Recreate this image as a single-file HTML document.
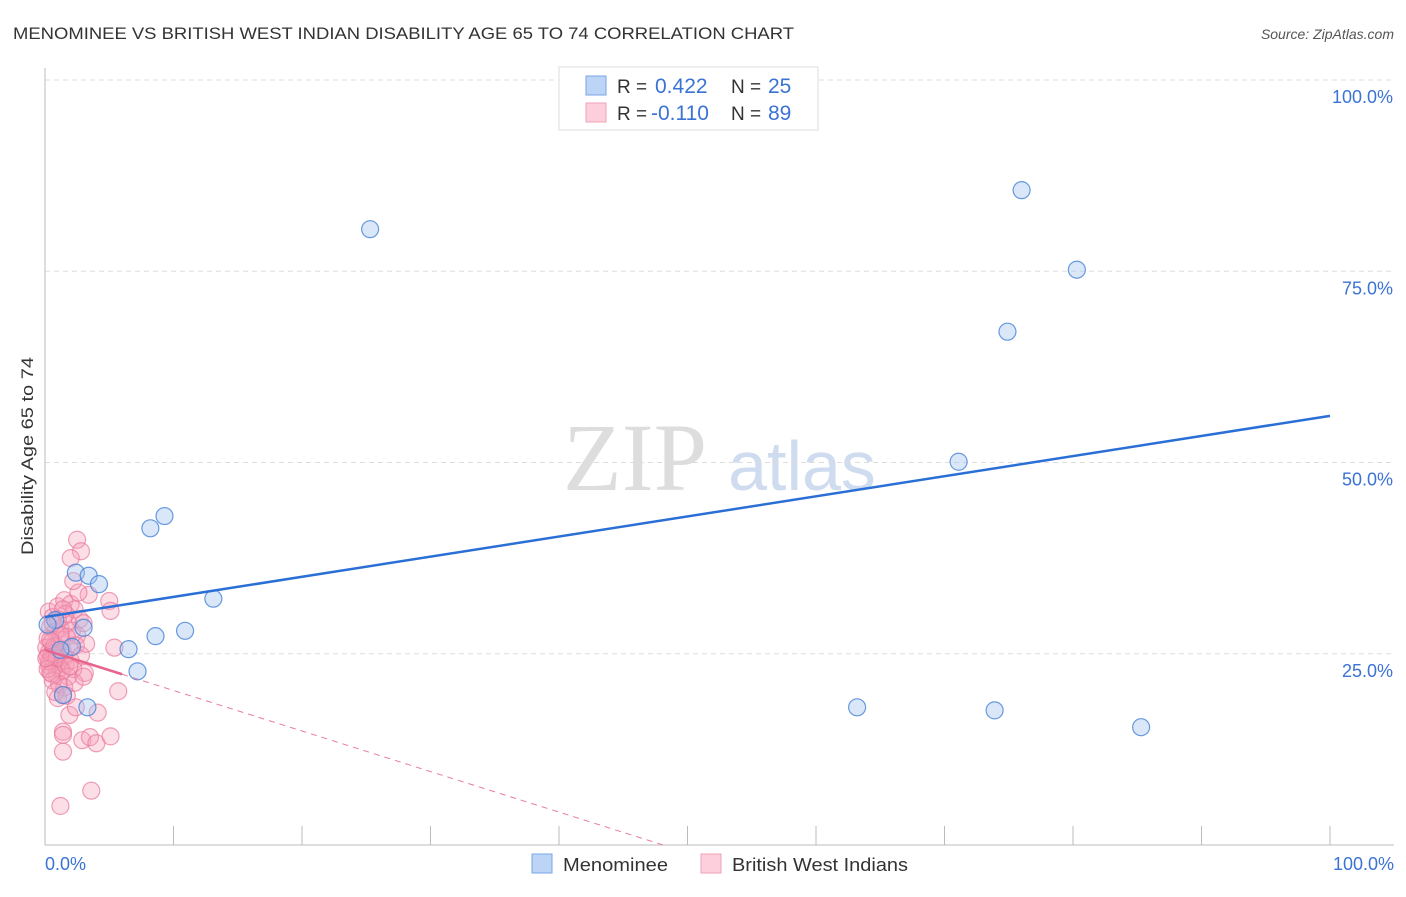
<!DOCTYPE html>
<html><head><meta charset="utf-8"><style>
body{margin:0;background:#fff;font-family:"Liberation Sans",sans-serif}
</style></head><body>
<svg id="chart" width="1406" height="892" xmlns="http://www.w3.org/2000/svg" style="font-family:'Liberation Sans',sans-serif">
<text x="13" y="39" font-size="17" fill="#333" textLength="781" lengthAdjust="spacingAndGlyphs">MENOMINEE VS BRITISH WEST INDIAN DISABILITY AGE 65 TO 74 CORRELATION CHART</text>
<text x="1394" y="39" font-size="14" fill="#555" font-style="italic" text-anchor="end">Source: ZipAtlas.com</text>
<g>
<text x="635" y="490" font-size="96" fill="#ddd" font-family="Liberation Serif,serif" text-anchor="middle">ZIP</text>
<text x="802" y="490" font-size="70" fill="#cfdcf0" text-anchor="middle">atlas</text>
</g>
<g id="grid"></g>
<line x1="45" y1="68" x2="45" y2="845" stroke="#bbb"/>
<line x1="45" y1="845" x2="1394" y2="845" stroke="#bbb"/>
<text x="33" y="456" font-size="17" fill="#333" text-anchor="middle" textLength="198" lengthAdjust="spacingAndGlyphs" transform="rotate(-90 33 456)">Disability Age 65 to 74</text>
<text x="45" y="870" font-size="18" fill="#3b73d4">0.0%</text>
<text x="1394" y="870" font-size="18" fill="#3b73d4" text-anchor="end">100.0%</text>
<g id="marks"></g>
<g>
<rect x="559" y="67" width="259" height="63" fill="#fff" stroke="#ddd"/>
<rect x="586" y="76" width="20" height="19" fill="#bcd4f5" stroke="#7aa5e6"/>
<rect x="586" y="103" width="20" height="19" fill="#fdcfdc" stroke="#eda3b9"/>
<text x="617" y="93" font-size="19" fill="#333">R = </text><text x="655" y="93" font-size="21" fill="#3b73d4">0.422</text>
<text x="731" y="93" font-size="19" fill="#333">N = </text><text x="768" y="93" font-size="21" fill="#3b73d4">25</text>
<text x="617" y="120" font-size="19" fill="#333">R = </text><text x="651" y="120" font-size="21" fill="#3b73d4">-0.110</text>
<text x="731" y="120" font-size="19" fill="#333">N = </text><text x="768" y="120" font-size="21" fill="#3b73d4">89</text>
</g>
<g>
<rect x="532" y="854" width="20" height="19" fill="#bcd4f5" stroke="#7aa5e6"/>
<text x="563" y="871" font-size="18" fill="#333" textLength="105" lengthAdjust="spacingAndGlyphs">Menominee</text>
<rect x="701" y="854" width="20" height="19" fill="#fdcfdc" stroke="#eda3b9"/>
<text x="732" y="871" font-size="18" fill="#333" textLength="176" lengthAdjust="spacingAndGlyphs">British West Indians</text>
</g>
</svg>
<script>
const yTicks=[25,50,75,100];
const yTickLabels=["25.0%","50.0%","75.0%","100.0%"];
const xTicks=[10,20,30,40,50,60,70,80,90,100];
const blueX=[25.3,76.0,80.3,74.9,71.1,63.2,73.9,85.3,9.3,8.2,2.4,3.4,4.2,13.1,0.8,3.0,8.6,10.9,2.1,6.5,7.2,1.4,3.3,0.2,1.2];
const blueY=[80.5,85.6,75.2,67.1,50.1,18.0,17.6,15.4,43.0,41.4,35.6,35.2,34.1,32.2,29.4,28.4,27.3,28.0,25.9,25.6,22.7,19.6,18.0,28.8,25.5];
const pinkX=[2.5,2.8,2.0,3.4,5.0,5.1,5.4,5.7,3.1,4.1,1.9,1.4,1.4,2.9,3.5,4.0,5.1,1.4,3.6,1.2,1.4,1.0,0.3,0.6,1.0,1.5,2.0,2.3,2.6,1.8,0.4,0.8,1.2,2.1,2.5,0.2,0.5,0.9,1.3,1.7,0.1,0.3,0.6,1.0,1.4,1.9,2.4,0.2,0.5,0.8,1.1,1.5,2.0,0.3,0.7,1.2,1.6,2.2,0.4,0.9,1.3,1.8,0.6,1.1,1.5,2.3,0.8,1.7,0.3,0.5,0.7,0.9,0.2,1.2,2.7,1.6,3.0,2.8,3.2,0.6,1.0,1.4,2.2,0.4,0.1,1.9,3.0,2.4,0.5];
const pinkY=[39.9,38.4,37.5,32.7,31.9,30.6,25.8,20.1,22.5,17.3,17.0,14.8,14.4,13.7,14.1,13.3,14.2,12.2,7.1,5.1,19.6,19.2,30.5,29.8,31.2,32.0,31.5,30.8,33.0,29.0,28.5,27.9,28.3,28.0,27.4,27.0,26.5,26.0,26.8,27.2,25.8,25.2,25.5,25.0,25.3,25.7,26.1,24.6,24.2,24.8,24.0,24.5,24.1,23.5,23.8,23.2,23.6,23.0,22.6,22.3,22.8,22.0,21.5,21.0,20.6,21.2,20.0,19.5,24.0,25.0,26.0,24.4,23.0,27.5,29.5,30.2,29.0,24.8,26.3,29.0,29.5,30.8,34.5,26.8,24.4,23.4,22.0,18.0,22.4];
const blueFit=[29.8,56.1];
const pinkFit=[25.5,-0.53];
const X=v=>45+v*12.85, Y=v=>845-v*7.65;
const NS="http://www.w3.org/2000/svg";
const mk=(t,a,p)=>{const e=document.createElementNS(NS,t);for(const k in a)e.setAttribute(k,a[k]);p.appendChild(e);return e;};
const grid=document.getElementById('grid'), marks=document.getElementById('marks');
yTicks.forEach((t,i)=>{
 const l=mk('line',{x1:45,x2:1394,y1:Y(t),y2:Y(t),stroke:'#ddd','stroke-dasharray':'5,4'},grid);
 
 
 const tx=mk('text',{x:1393,y:Y(t)+23,'font-size':18,fill:'#3b73d4','text-anchor':'end'},grid);
 tx.textContent=yTickLabels[i];
 
 
});
xTicks.forEach(t=>{
 const l=mk('line',{x1:X(t),x2:X(t),y1:826,y2:845,stroke:'#bbb'},grid);
 
 
});
pinkX.forEach((v,i)=>{
 const c=mk('circle',{cx:X(v),cy:Y(pinkY[i]),r:8.5,fill:'rgba(246,160,186,0.35)',stroke:'rgba(232,120,155,0.7)','stroke-width':1.2},marks);
 
 
});
blueX.forEach((v,i)=>{
 const c=mk('circle',{cx:X(v),cy:Y(blueY[i]),r:8.5,fill:'rgba(160,195,240,0.4)',stroke:'rgba(70,130,215,0.8)','stroke-width':1.2},marks);
 
 
});
const bl=mk('line',{x1:X(0),y1:Y(blueFit[0]),x2:X(100),y2:Y(blueFit[1]),stroke:'#2a6fd6','stroke-width':2.5},marks);


const pz=-pinkFit[0]/pinkFit[1];
const pd=mk('line',{x1:X(6),y1:Y(pinkFit[0]+6*pinkFit[1]),x2:X(pz),y2:Y(0),stroke:'#e87d9c','stroke-width':1,'stroke-dasharray':'6,5'},marks);


const ps=mk('line',{x1:X(0),y1:Y(pinkFit[0]),x2:X(6),y2:Y(pinkFit[0]+6*pinkFit[1]),stroke:'#e8648c','stroke-width':2.5},marks);


</script>
</body></html>
